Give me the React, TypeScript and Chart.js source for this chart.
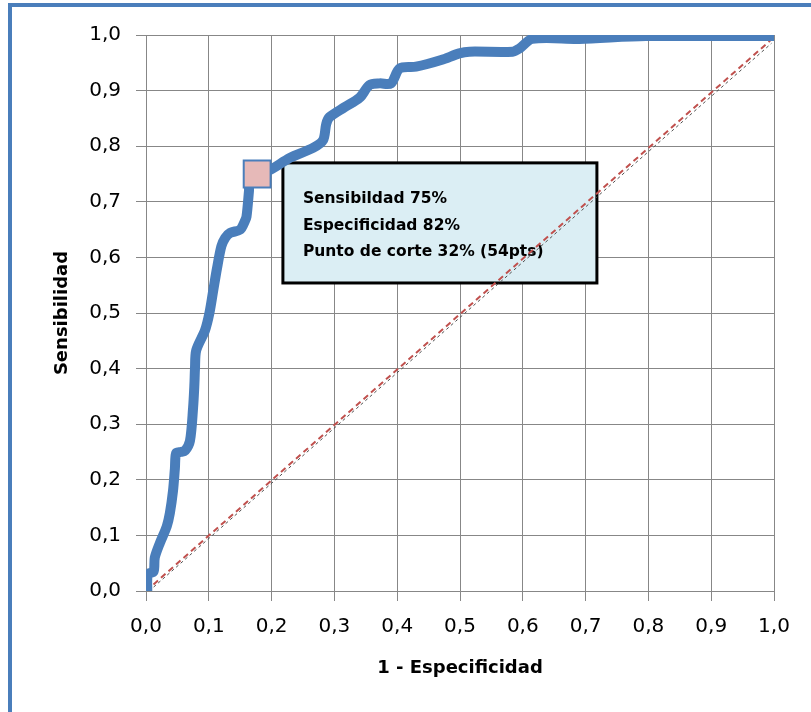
import React, { useEffect, useRef } from 'react';
import { Chart, registerables } from 'chart.js';

Chart.register(...registerables);

// ROC curve (1 - Especificidad, Sensibilidad)
const rocX = [0.002, 0.003, 0.012, 0.014, 0.022, 0.033, 0.038, 0.043, 0.046, 0.048, 0.055, 0.062, 0.07, 0.075, 0.077, 0.078, 0.08, 0.094, 0.101, 0.107, 0.113, 0.12, 0.126, 0.134, 0.15, 0.157, 0.16, 0.164, 0.165, 0.177, 0.197, 0.229, 0.266, 0.282, 0.287, 0.292, 0.316, 0.34, 0.356, 0.372, 0.39, 0.404, 0.43, 0.47, 0.499, 0.515, 0.584, 0.595, 0.615, 0.69, 0.796, 1.0];
const rocY = [0.0, 0.03, 0.035, 0.06, 0.086, 0.116, 0.14, 0.18, 0.22, 0.248, 0.25, 0.252, 0.27, 0.33, 0.37, 0.4, 0.433, 0.469, 0.5, 0.54, 0.58, 0.62, 0.635, 0.644, 0.65, 0.664, 0.673, 0.72, 0.735, 0.75, 0.757, 0.779, 0.797, 0.811, 0.84, 0.852, 0.87, 0.887, 0.91, 0.913, 0.913, 0.94, 0.943, 0.955, 0.967, 0.97, 0.97, 0.976, 0.993, 0.993, 0.998, 0.998];

// Cut-off point
const cutX = [0.177];
const cutY = [0.75];

// Reference diagonals
const refRedX = [0.0, 0.994];
const refRedY = [0.0, 0.99];
const refGrayX = [0.005, 0.996];
const refGrayY = [0.0, 0.985];

const xTickLabels = ['0,0', '0,1', '0,2', '0,3', '0,4', '0,5', '0,6', '0,7', '0,8', '0,9', '1,0'];
const yTickLabels = ['0,0', '0,1', '0,2', '0,3', '0,4', '0,5', '0,6', '0,7', '0,8', '0,9', '1,0'];

const annotationLines = ['Sensibildad 75%', 'Especificidad 82%', 'Punto de corte 32% (54pts)'];

const xTitle = '1 - Especificidad';
const yTitle = 'Sensibilidad';

// annotation box placement in data units
const boxPos = { x0: 0.218, x1: 0.718, y0: 0.77, y1: 0.554 };

const FONT = "'DejaVu Sans', sans-serif";

const toPts = (xs: number[], ys: number[]) => xs.map((x, i) => ({ x, y: ys[i] }));

const annotationPlugin = {
  id: 'annotationBox',
  beforeDatasetsDraw(chart: any) {
    const { ctx, scales } = chart;
    const xs = scales.x;
    const ys = scales.y;
    const l = xs.getPixelForValue(boxPos.x0);
    const r = xs.getPixelForValue(boxPos.x1);
    const t = ys.getPixelForValue(boxPos.y0);
    const b = ys.getPixelForValue(boxPos.y1);
    ctx.save();
    ctx.fillStyle = '#DBEEF4';
    ctx.fillRect(l, t, r - l, b - t);
    ctx.lineWidth = 3;
    ctx.strokeStyle = '#000000';
    ctx.strokeRect(l, t, r - l, b - t);
    ctx.fillStyle = '#000000';
    ctx.font = `bold 15.5px ${FONT}`;
    ctx.textBaseline = 'alphabetic';
    ctx.textAlign = 'left';
    annotationLines.forEach((line, i) => {
      ctx.fillText(line, l + 20, t + 40 + i * 26.7);
    });
    ctx.restore();
  },
};

export default function App() {
  const canvasRef = useRef<HTMLCanvasElement | null>(null);

  useEffect(() => {
    if (!canvasRef.current) return;
    const gridColor = '#878787';
    const chart = new Chart(canvasRef.current, {
      type: 'scatter',
      data: {
        datasets: [
          {
            label: 'Punto de corte',
            data: toPts(cutX, cutY),
            showLine: false,
            pointStyle: 'rect',
            pointRadius: 19,
            pointBackgroundColor: '#E6B9B8',
            pointBorderColor: '#4A7EBB',
            pointBorderWidth: 2,
          },
          {
            label: 'ROC',
            data: toPts(rocX, rocY),
            showLine: true,
            borderColor: '#4A7EBB',
            borderWidth: 10,
            pointRadius: 0,
            tension: 0.3,
            borderJoinStyle: 'round',
            borderCapStyle: 'round',
          },
          {
            label: 'Referencia',
            data: toPts(refRedX, refRedY),
            showLine: true,
            borderColor: '#C0504D',
            borderWidth: 2,
            borderDash: [6, 4],
            pointRadius: 0,
          },
          {
            label: 'Referencia 2',
            data: toPts(refGrayX, refGrayY),
            showLine: true,
            borderColor: '#505050',
            borderWidth: 1,
            borderDash: [3, 3],
            pointRadius: 0,
          },
        ],
      },
      options: {
        animation: false,
        responsive: false,
        layout: { padding: { left: 0, right: 37, top: 35, bottom: 0 } },
        plugins: {
          legend: { display: false },
          tooltip: { enabled: false },
        },
        scales: {
          x: {
            type: 'linear',
            min: 0,
            max: 1,
            grid: { color: gridColor, lineWidth: 1, tickLength: 10, drawTicks: true },
            border: { color: gridColor, width: 1 },
            ticks: {
              stepSize: 0.1,
              color: '#000000',
              font: { family: FONT, size: 20 },
              padding: 14,
              maxRotation: 0,
              autoSkip: false,
              callback: (_v: any, i: number) => xTickLabels[i],
            },
            title: {
              display: true,
              text: xTitle,
              color: '#000000',
              font: { family: FONT, size: 18, weight: 'bold' },
              padding: { top: 0, bottom: 33 },
            },
            afterFit: (scale: any) => {
              scale.height = 121;
            },
          },
          y: {
            type: 'linear',
            min: 0,
            max: 1,
            grid: { color: gridColor, lineWidth: 1, tickLength: 10, drawTicks: true },
            border: { color: gridColor, width: 1 },
            ticks: {
              stepSize: 0.1,
              color: '#000000',
              font: { family: FONT, size: 20 },
              padding: 15,
              autoSkip: false,
              callback: (_v: any, i: number) => yTickLabels[i],
            },
            title: {
              display: true,
              text: yTitle,
              color: '#000000',
              font: { family: FONT, size: 18, weight: 'bold' },
              padding: { top: 52, bottom: 0 },
            },
            afterFit: (scale: any) => {
              scale.width = 146;
            },
          },
        },
      },
      plugins: [annotationPlugin],
    } as any);
    return () => chart.destroy();
  }, []);

  return (
    <div
      style={{
        position: 'absolute',
        left: 0,
        top: 0,
        width: 811,
        height: 712,
        overflow: 'hidden',
        background: '#ffffff',
      }}
    >
      <div
        style={{
          position: 'absolute',
          left: 8,
          top: 3,
          width: 820,
          height: 730,
          border: '4px solid #4A7EBB',
          boxSizing: 'border-box',
        }}
      />
      <canvas
        ref={canvasRef}
        width={811}
        height={712}
        style={{ position: 'absolute', left: 0, top: 0, width: 811, height: 712 }}
      />
    </div>
  );
}
